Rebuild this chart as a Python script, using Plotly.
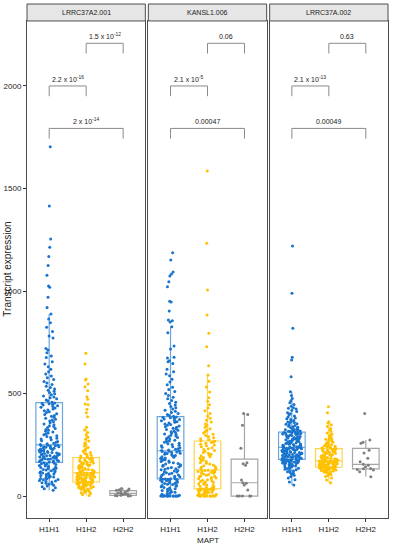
import plotly.graph_objects as go

# ---------------- data ----------------
genotypes = ["H1H1", "H1H2", "H2H2"]
transcripts = ["LRRC37A2.001", "KANSL1.006", "LRRC37A.002"]

lrrc37a2_h1h1 = [
    28, 36, 41, 45, 49, 53, 57, 60, 62, 65, 68, 71, 73, 76, 79, 81, 83, 86, 88, 90,
    93, 95, 98, 100, 102, 105, 107, 110, 112, 114, 117, 119, 122, 124, 127, 129, 131, 134, 136, 139,
    141, 144, 146, 149, 151, 154, 156, 158, 161, 163,
    166, 167, 169, 171, 172, 174, 176, 177, 179, 181, 182, 184, 186, 188, 189, 191, 193, 194, 196, 198,
    199, 201, 203, 205, 206, 208, 210, 212, 213, 215, 217, 219, 220, 222, 224, 226, 227, 229, 231, 233,
    234, 236, 238, 240, 241, 243, 245, 246, 248, 249,
    251, 255, 258, 262, 266, 270, 274, 278, 282, 286, 290, 294, 299, 303, 307, 312, 316, 321, 325, 330,
    334, 339, 343, 348, 352, 357, 362, 366, 371, 375, 380, 384, 389, 393, 398, 402, 407, 411, 416, 420,
    425, 429, 433, 437, 441, 444, 447, 450, 452, 454,
    457, 465, 469, 474, 479, 483, 488, 494, 499, 505, 511, 516, 522, 529, 536, 544, 551, 559, 568, 577,
    586, 595, 606, 618, 631, 644, 655, 676, 683, 699, 712, 720, 771, 780, 803, 823, 845, 863, 888, 920,
    969, 1018, 1024, 1077, 1125, 1168, 1213, 1254, 1415, 1704,
]
lrrc37a2_h1h2 = [
    3, 8, 12, 16, 19, 22, 25, 28, 30, 33, 35, 37, 39, 41, 43, 45, 47, 48, 50, 52,
    53, 55, 56, 57, 58, 59, 60, 61, 62, 63, 64, 65, 66, 67, 68,
    69, 70, 72, 73, 74, 76, 77, 78, 80, 81, 82, 84, 85, 86, 88, 89, 90, 92, 93, 94,
    96, 97, 98, 100, 101, 102, 104, 105, 106, 108, 109, 110, 111, 112, 113,
    115, 117, 119, 121, 123, 125, 127, 129, 131, 133, 135, 137, 139, 141, 143, 145, 147, 149, 151, 153,
    155, 157, 159, 161, 163, 165, 167, 170, 172, 174, 176, 178, 181, 183, 186,
    188, 191, 195, 199, 203, 208, 213, 218, 224, 230, 237, 244, 251, 259, 268, 277, 287, 298, 310, 322,
    335, 387, 406, 423, 445, 449, 472, 484, 514, 533, 546, 566, 571, 644, 696,
]
lrrc37a2_h2h2 = [0, 1, 2, 3, 4, 7, 9, 11, 13, 15, 18, 21, 26, 28, 31, 34, 37]

kansl1_h1h1 = [
    0, 0, 0, 0, 0, 0, 0, 0, 0, 0, 0, 0, 0, 0,
    2, 4, 6, 9, 12, 15, 18, 21, 24, 27, 30, 33, 36, 39, 42, 45, 48, 51, 53, 56,
    58, 61, 63, 65, 67, 69, 71, 73, 75, 77, 79, 80, 81, 82, 83, 83,
    85, 88, 91, 94, 97, 100, 103, 106, 108, 111, 114, 117, 119, 122, 125, 128, 131, 133, 136, 139,
    142, 145, 148, 150, 153, 156, 159, 162, 165, 168, 171, 174, 177, 180, 183, 186, 189, 192, 195, 198,
    201, 204, 207, 209, 211, 213, 215, 217, 219, 220,
    222, 225, 228, 231, 235, 238, 241, 245, 248, 251, 255, 258, 262, 265, 268, 272, 275, 279, 282, 286,
    289, 293, 296, 300, 303, 307, 310, 314, 317, 321, 324, 328, 331, 335, 338, 342, 345, 349, 352, 356,
    360, 363, 367, 370, 373, 376, 379, 382, 384, 386,
    389, 393, 398, 403, 408, 413, 419, 425, 431, 437, 444, 451, 458, 466, 474, 482, 491, 500, 510, 520,
    531, 543, 556, 570, 587, 595, 606, 618, 647, 655, 660, 673, 677, 717, 732, 797, 826,
    849, 855, 859, 902, 946, 950, 1021, 1045, 1073, 1083, 1093, 1151, 1187,
]
kansl1_h1h2 = [
    0, 0, 0, 0, 0, 0, 0, 0, 0, 0, 0, 0,
    2, 4, 6, 8, 10, 12, 14, 16, 18, 19, 21, 22, 24, 25, 27, 28, 29, 30, 31, 32, 33, 33, 34,
    36, 39, 42, 45, 48, 51, 54, 57, 60, 63, 66, 69, 71, 74, 77, 80, 83, 85, 88, 91,
    94, 97, 99, 102, 105, 108, 111, 113, 116, 118, 120, 122, 124, 125, 126,
    128, 132, 136, 140, 144, 148, 152, 156, 160, 164, 168, 172, 176, 180, 184, 188, 192, 196, 200, 204,
    209, 213, 218, 222, 227, 231, 236, 240, 245, 249, 253, 257, 261, 264, 267,
    270, 274, 279, 284, 289, 295, 301, 307, 314, 321, 328, 336, 344, 352, 361, 370, 380, 391, 403, 416,
    430, 445, 462, 480, 507, 532, 560, 590, 636, 728, 794, 883, 1005, 1233, 1585,
]
kansl1_h2h2 = [0, 0, 0, 0, 0, 29, 54, 62, 65, 78, 150, 158, 162, 233, 345, 398, 403]

lrrc37a_h1h1 = [
    54, 68, 79, 88, 95, 101, 106, 111, 115, 119, 122, 125, 128, 131, 133, 136, 138, 140, 142, 144,
    146, 148, 150, 152, 154, 155, 157, 158, 160, 161, 163, 164, 165, 166, 167, 168, 169, 170, 171, 172,
    173, 174, 174, 175, 175, 176, 176, 177, 177, 178,
    180, 181, 182, 184, 185, 186, 187, 189, 190, 191, 192, 193, 195, 196, 197, 198, 200, 201, 202, 203,
    205, 206, 207, 208, 210, 211, 212, 213, 214, 216, 217, 218, 219, 220, 222, 223, 224, 225, 226, 227,
    228, 229, 230, 231, 232, 233, 234, 235, 236, 236,
    238, 239, 241, 242, 244, 245, 247, 248, 250, 251, 253, 254, 256, 257, 259, 260, 262, 263, 265, 266,
    268, 269, 271, 272, 274, 275, 277, 278, 280, 281, 283, 285, 286, 288, 289, 291, 293, 295, 296, 298,
    300, 301, 303, 304, 305, 306, 308, 309, 310, 311,
    313, 315, 316, 317, 319, 321, 323, 325, 327, 330, 332, 333, 335, 338, 341, 344, 347, 350, 353, 357,
    359, 361, 365, 369, 373, 377, 381, 386, 391, 396, 401, 406, 412, 418, 424, 428, 431, 438, 446, 455,
    465, 476, 490, 509, 582, 663, 677, 818, 989, 1220,
]
lrrc37a_h1h2 = [
    65, 78, 88, 95, 100, 104, 108, 111, 114, 116, 118, 120, 122, 124, 125, 127, 128, 129, 130, 131,
    132, 133, 134, 135, 135, 136, 136, 137, 137, 138, 138, 139, 139, 139, 140,
    141, 142, 142, 144, 145, 146, 146, 148, 149, 150, 151, 152, 153, 153, 155, 156, 157, 158, 158, 160,
    161, 162, 163, 164, 164, 166, 167, 168, 169, 169, 170, 170, 171, 171, 171,
    173, 174, 176, 177, 179, 180, 182, 183, 185, 186, 188, 189, 191, 192, 194, 195, 197, 198, 200, 201,
    203, 205, 207, 209, 211, 213, 215, 217, 219, 221, 223, 225, 227, 229, 230,
    232, 234, 236, 236, 238, 240, 243, 245, 247, 248, 250, 253, 256, 259, 262, 265, 269, 273, 275, 277,
    281, 286, 291, 296, 302, 308, 315, 322, 330, 339, 348, 356, 363, 406, 436,
]
lrrc37a_h2h2 = [94, 119, 127, 130, 133, 135, 143, 150, 155, 167, 184, 210, 224, 257, 262, 273, 403]

panel_values = [
    [lrrc37a2_h1h1, lrrc37a2_h1h2, lrrc37a2_h2h2],
    [kansl1_h1h1, kansl1_h1h2, kansl1_h2h2],
    [lrrc37a_h1h1, lrrc37a_h1h2, lrrc37a_h2h2],
]

# p-value labels per panel: (H1H1 vs H1H2, H1H2 vs H2H2, H1H1 vs H2H2)
pvalue_labels = [
    ["2.2 x 10<sup>-16</sup>", "1.5 x 10<sup>-12</sup>", "2 x 10<sup>-14</sup>"],
    ["2.1 x 10<sup>-5</sup>", "0.06", "0.00047"],
    ["2.1 x 10<sup>-13</sup>", "0.63", "0.00049"],
]
y_ticks = [0, 500, 1000, 1500, 2000]

# ---------------- style ----------------
point_colors = ["#1874CD", "#FFC000", "#7F7F7F"]
box_colors = ["rgba(24,116,205,0.65)", "rgba(255,192,0,0.7)", "rgba(127,127,127,0.7)"]
bracket_pairs = [(0, 1), (1, 2), (0, 2)]
bracket_tops = [2000, 2208, 1793]
leg_drop = 50
font_family = "Liberation Sans Narrow, Liberation Sans, Arial, sans-serif"

gap = 0.0083
pw = (1 - 2 * gap) / 3
domains = [[i * (pw + gap), i * (pw + gap) + pw] for i in range(3)]
y_top_dom = 0.967

fig = go.Figure()
shapes = []
annotations = []

for p in range(3):
    xa = "x" if p == 0 else f"x{p + 1}"
    ya = "y" if p == 0 else f"y{p + 1}"
    for g in range(3):
        vals = panel_values[p][g]
        fig.add_trace(go.Box(
            y=vals, x=[g] * len(vals),
            xaxis=xa, yaxis=ya,
            boxpoints="all", jitter=0.75, pointpos=0,
            width=0.72,
            marker=dict(color=point_colors[g], size=3),
            line=dict(color=box_colors[g], width=1.2),
            fillcolor="rgba(0,0,0,0)",
            whiskerwidth=0,
            showlegend=False, hoverinfo="y",
        ))
    # significance brackets
    for (a, b), top, lab in zip(bracket_pairs, bracket_tops, pvalue_labels[p]):
        shapes.append(dict(type="path", xref=xa, yref=ya,
                           path=f"M {a},{top - leg_drop} L {a},{top} L {b},{top} L {b},{top - leg_drop}",
                           line=dict(color="#8a8a8a", width=1)))
        annotations.append(dict(x=(a + b) / 2, y=top, xref=xa, yref=ya, text=lab,
                                showarrow=False, xanchor="center", yanchor="bottom", yshift=1,
                                font=dict(size=7, color="#222", family=font_family)))
    # facet strip
    shapes.append(dict(type="rect", xref="paper", yref="paper",
                       x0=domains[p][0], x1=domains[p][1], y0=y_top_dom, y1=1.0,
                       fillcolor="#e6e6e6", line=dict(color="#4d4d4d", width=1)))
    annotations.append(dict(x=(domains[p][0] + domains[p][1]) / 2, y=(y_top_dom + 1) / 2,
                            xref="paper", yref="paper", text=transcripts[p], showarrow=False,
                            xanchor="center", yanchor="middle",
                            font=dict(size=7, color="#222", family=font_family)))

    axis_x = dict(domain=domains[p], anchor=ya, range=[-0.6, 2.6], automargin=False,
                  tickvals=[0, 1, 2], ticktext=genotypes, ticks="outside", ticklen=3,
                  tickcolor="#333", showline=True, linecolor="#4d4d4d", linewidth=1, mirror=True,
                  showgrid=False, zeroline=False,
                  tickfont=dict(size=8, color="#222", family=font_family))
    axis_y = dict(domain=[0, y_top_dom], anchor=xa, range=[-107, 2317], automargin=False,
                  tickvals=y_ticks, ticks="outside" if p == 0 else "", ticklen=3, tickcolor="#333",
                  showticklabels=(p == 0), showline=True, linecolor="#4d4d4d", linewidth=1,
                  mirror=True, showgrid=False, zeroline=False,
                  tickfont=dict(size=8, color="#222", family=font_family))
    if p == 0:
        fig.update_layout(xaxis=axis_x, yaxis=axis_y)
    else:
        fig.update_layout(**{f"xaxis{p + 1}": axis_x, f"yaxis{p + 1}": axis_y})

annotations.append(dict(x=0.5, y=-0.0447, xref="paper", yref="paper", text="MAPT",
                        showarrow=False, xanchor="center", yanchor="middle",
                        font=dict(size=8, color="#222", family=font_family)))
annotations.append(dict(x=-0.055, y=y_top_dom / 2, xref="paper", yref="paper",
                        text="Transcript expression", textangle=-90, showarrow=False,
                        xanchor="center", yanchor="middle",
                        font=dict(size=10, color="#222", family=font_family)))

fig.update_layout(width=393, height=550, margin=dict(l=27, r=5, t=4, b=32),
                  paper_bgcolor="white", plot_bgcolor="white",
                  shapes=shapes, annotations=annotations, showlegend=False)

fig.write_html("out.html", config={"displayModeBar": False},
               post_script="document.body.style.margin='0';")
